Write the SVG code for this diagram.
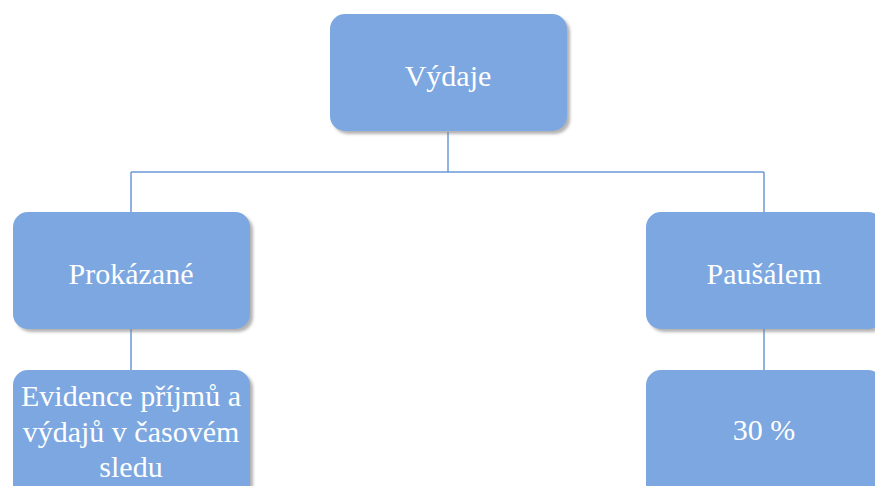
<svg xmlns="http://www.w3.org/2000/svg" width="875" height="486" viewBox="0 0 875 486">
<defs>
<filter id="sh" x="-10%" y="-10%" width="130%" height="130%">
<feDropShadow dx="3" dy="3" stdDeviation="1.5" flood-color="#808080" flood-opacity="0.6"/>
</filter>
<style>
.box{fill:#7ba7e0;filter:url(#sh);}
.t{font-family:'Liberation Serif',serif;font-size:30px;fill:#ffffff;text-anchor:middle;}
.c{stroke:#6b9ad8;stroke-width:1.5;fill:none;}
</style>
</defs>
<rect width="875" height="486" fill="#ffffff"/>
<g id="connectors">
<path class="c" d="M448,132 V172 M131,172 H764 M131,172 V212 M764,172 V212 M131,329 V370 M764,329 V370"/>
</g>
<g id="vydaje">
<rect class="box" x="330" y="14" width="237" height="117" rx="15"/>
<text class="t" x="448" y="86">Výdaje</text>
</g>
<g id="prokazane">
<rect class="box" x="13" y="212" width="237" height="117" rx="15"/>
<text class="t" x="131" y="284">Prokázané</text>
</g>
<g id="pausalem">
<rect class="box" x="646" y="212" width="237" height="117" rx="15"/>
<text class="t" x="764" y="284">Paušálem</text>
</g>
<g id="evidence">
<rect class="box" x="13" y="370" width="237" height="130" rx="15"/>
<text class="t" x="131" y="406">Evidence příjmů a</text>
<text class="t" x="131" y="442">výdajů v časovém</text>
<text class="t" x="131" y="477">sledu</text>
</g>
<g id="procenta">
<rect class="box" x="646" y="370" width="237" height="130" rx="15"/>
<text class="t" x="764" y="440">30 %</text>
</g>
</svg>
